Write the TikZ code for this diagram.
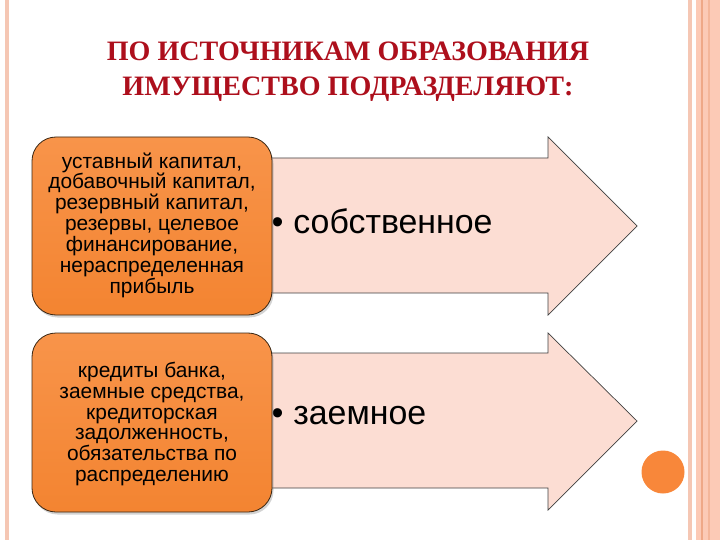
\documentclass[tikz,border=0pt]{standalone}
\usepackage{fontspec}
\setmainfont{Liberation Sans}
\newfontfamily\titlefont{Liberation Serif}
\usetikzlibrary{shadows,calc}
\definecolor{titlered}{HTML}{AD0F1C}
\definecolor{arrowfill}{HTML}{FCDDD3}
\definecolor{orangeA}{HTML}{F8944A}
\definecolor{orangeB}{HTML}{F38431}
\definecolor{stripeA}{HTML}{F5C7B4}
\definecolor{stripeB}{HTML}{FCCAB6}
\definecolor{stripeC}{HTML}{EFA887}
\definecolor{dotorange}{HTML}{F8873A}
\tikzset{
  bigarrow/.style={fill=arrowfill, draw=black!75, line width=0.7bp, line join=miter},
  orangebox/.style={rounded corners=24bp, draw=black!70!brown, line width=0.8bp,
    top color=orangeA, bottom color=orangeB, drop shadow={shadow xshift=1.5bp, shadow yshift=-2.5bp, opacity=0.35}},
  boxtext/.style={align=center, font=\fontsize{21}{20.9}\selectfont, text=black},
  bullettext/.style={anchor=west, font=\fontsize{34}{36}\selectfont, text=black},
  titletext/.style={align=center, text=titlered, font=\titlefont\bfseries\fontsize{28.2}{35}\selectfont}
}
\begin{document}
\begin{tikzpicture}[x=1bp,y=-1bp]
\useasboundingbox (0,0) rectangle (720,540);
% side stripes
\fill[stripeA] (5,0) rectangle (9,540);
\fill[stripeA] (688,0) rectangle (692,540);
\fill[stripeB] (696,0) rectangle (720,540);
\fill[stripeC] (700.5,0) rectangle (703,540);
\fill[stripeC!60!stripeB] (708,0) rectangle (709.5,540);
\fill[dotorange] (663,472) circle (21.5);
% title
\node[titletext] (title) at (348,72) {ПО ИСТОЧНИКАМ ОБРАЗОВАНИЯ\\ИМУЩЕСТВО ПОДРАЗДЕЛЯЮТ:};
% top arrow
\draw[bigarrow] (255,158) -- (548,158) -- (548,137) -- (637,226) -- (548,315) -- (548,293) -- (255,293) -- cycle;
\node[bullettext] (own) at (268,221) {•\hspace{10bp}собственное};
% bottom arrow
\draw[bigarrow] (255,353) -- (548,353) -- (548,333) -- (637,421) -- (548,510) -- (548,488) -- (255,488) -- cycle;
\node[bullettext] (loan) at (268,416) {•\hspace{10bp}заемное};
% orange boxes
\path[orangebox] (32,137) rectangle (272,315);
\node[boxtext] (ownsrc) at (152,225) {уставный капитал,\\добавочный капитал,\\резервный капитал,\\резервы, целевое\\финансирование,\\нераспределенная\\прибыль};
\path[orangebox] (32,333) rectangle (272,512);
\node[boxtext] (loansrc) at (152,424) {кредиты банка,\\заемные средства,\\кредиторская\\задолженность,\\обязательства по\\распределению};
\end{tikzpicture}
\end{document}
